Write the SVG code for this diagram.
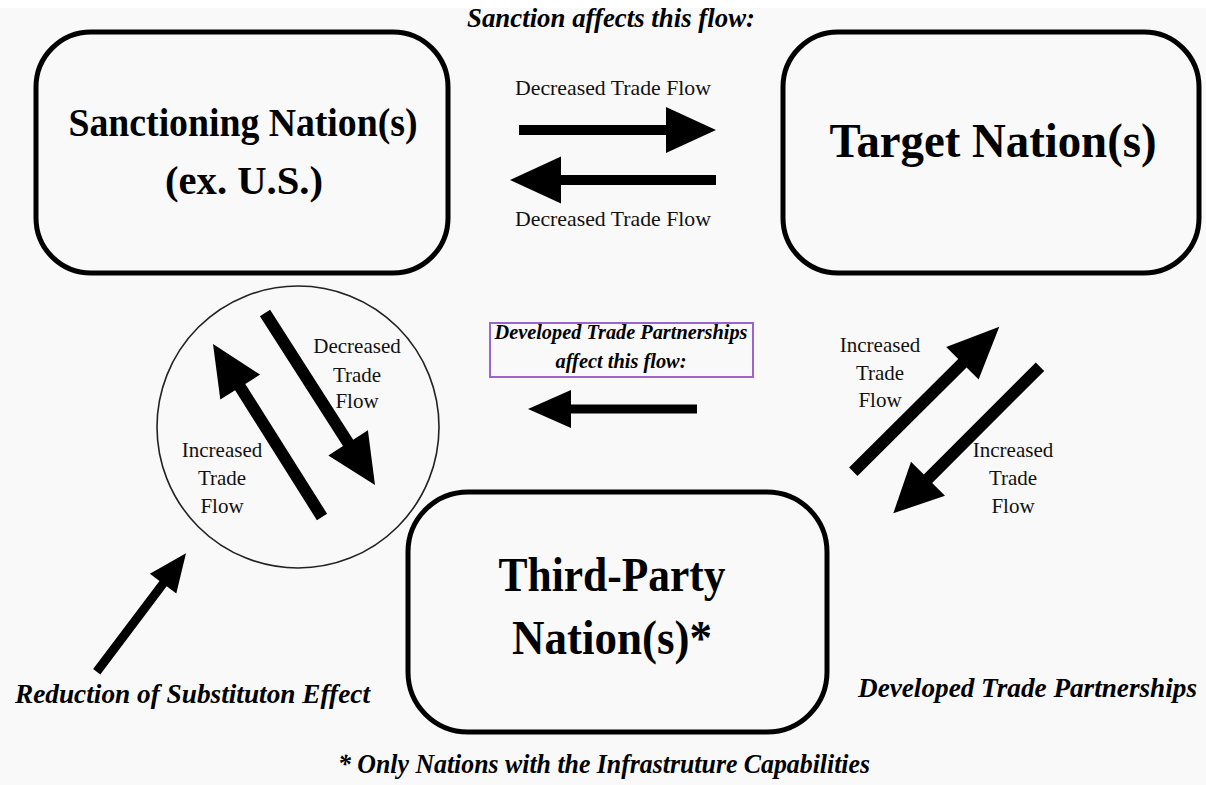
<svg xmlns="http://www.w3.org/2000/svg" width="1206" height="785" viewBox="0 0 1206 785">
<style>
.node{fill:none;stroke:#000;stroke-width:5}
text{font-family:"Liberation Serif","Times New Roman",Times,"Nimbus Roman","FreeSerif",serif}
.big{font-weight:bold;fill:#000;text-anchor:middle}
.lbl{font-size:21px;fill:#111;text-anchor:middle}
.bi{font-weight:bold;font-style:italic;fill:#000;text-anchor:middle}
.arr{fill:#000}
</style>
<rect x="0" y="0" width="1206" height="785" fill="#f9f9f9"/>
<rect x="0" y="0" width="1206" height="8" fill="#ffffff"/>

<g id="sanctioning">
<rect class="node" x="36" y="32" width="412" height="241" rx="55"/>
<text class="big" x="243" y="136" font-size="40" textLength="349" lengthAdjust="spacingAndGlyphs">Sanctioning Nation(s)</text>
<text class="big" x="244" y="194" font-size="40" textLength="158" lengthAdjust="spacingAndGlyphs">(ex. U.S.)</text>
</g>

<g id="target">
<rect class="node" x="783" y="32" width="416" height="241" rx="55"/>
<text class="big" x="993" y="157" font-size="49" textLength="327" lengthAdjust="spacingAndGlyphs">Target Nation(s)</text>
</g>

<g id="thirdparty">
<rect class="node" x="408" y="492" width="419" height="240" rx="60"/>
<text class="big" x="612" y="591" font-size="48" textLength="227" lengthAdjust="spacingAndGlyphs">Third-Party</text>
<text class="big" x="612" y="654" font-size="48" textLength="200" lengthAdjust="spacingAndGlyphs">Nation(s)*</text>
</g>

<g id="substitution-circle">
<circle cx="298" cy="427" r="141" fill="none" stroke="#222" stroke-width="1.6"/>
</g>

<g id="dtp-label">
<rect x="490" y="323" width="263" height="54" fill="none" stroke="#9a66cc" stroke-width="2"/>
<text class="bi" x="621" y="339" font-size="20" textLength="253" lengthAdjust="spacingAndGlyphs">Developed Trade Partnerships</text>
<text class="bi" x="621" y="368" font-size="20" textLength="131" lengthAdjust="spacingAndGlyphs">affect this flow:</text>
</g>

<g id="connectors">
<polygon class="arr" points="519,125 666,125 666,107 716,130 666,153 666,135 519,135"/>
<polygon class="arr" points="716,175 561,175 561,156.5 510,180 561,203.5 561,185 716,185"/>
<polygon class="arr" points="697,404.5 571,404.5 571,390 528,409 571,428 571,413.5 697,413.5"/>
<polygon class="arr" points="270.1,309.8 353.2,439.7 367.9,430.2 375,485 328.3,455.6 343.0,446.1 259.9,316.2"/>
<polygon class="arr" points="327.1,513.8 245.3,383.9 260.1,374.6 213,344 220.3,399.6 235.1,390.3 316.9,520.2"/>
<polygon class="arr" points="849.1,467.4 958.2,359.0 946.2,347.0 999.3,326.7 978.6,379.6 966.6,367.6 857.5,476.0"/>
<polygon class="arr" points="1035.8,362.5 923.8,474.5 911.0,461.7 893.3,513.3 945.0,495.7 932.2,482.9 1044.2,370.9"/>
<polygon class="arr" points="93.1,669.0 159.5,580.9 149.9,573.7 186,553.3 176.3,593.5 166.7,586.3 100.3,674.4"/>
</g>

<g id="labels">
<text class="bi" x="611" y="27" font-size="28" textLength="288" lengthAdjust="spacingAndGlyphs">Sanction affects this flow:</text>
<text class="lbl" x="613" y="95" textLength="196" lengthAdjust="spacingAndGlyphs">Decreased Trade Flow</text>
<text class="lbl" x="613" y="226" textLength="196" lengthAdjust="spacingAndGlyphs">Decreased Trade Flow</text>
<text class="lbl" x="357" y="353">Decreased</text>
<text class="lbl" x="357" y="382">Trade</text>
<text class="lbl" x="357" y="408">Flow</text>
<text class="lbl" x="222" y="457">Increased</text>
<text class="lbl" x="222" y="485">Trade</text>
<text class="lbl" x="222" y="513">Flow</text>
<text class="lbl" x="880" y="352">Increased</text>
<text class="lbl" x="880" y="380">Trade</text>
<text class="lbl" x="880" y="407">Flow</text>
<text class="lbl" x="1013" y="457">Increased</text>
<text class="lbl" x="1013" y="485">Trade</text>
<text class="lbl" x="1013" y="513">Flow</text>
<text class="bi" x="192.5" y="703" font-size="28" textLength="355" lengthAdjust="spacingAndGlyphs">Reduction of Substituton Effect</text>
<text class="bi" x="1027.5" y="697" font-size="28" textLength="339" lengthAdjust="spacingAndGlyphs">Developed Trade Partnerships</text>
<text class="bi" x="604" y="773" font-size="28" textLength="532" lengthAdjust="spacingAndGlyphs">* Only Nations with the Infrastruture Capabilities</text>
</g>
</svg>
